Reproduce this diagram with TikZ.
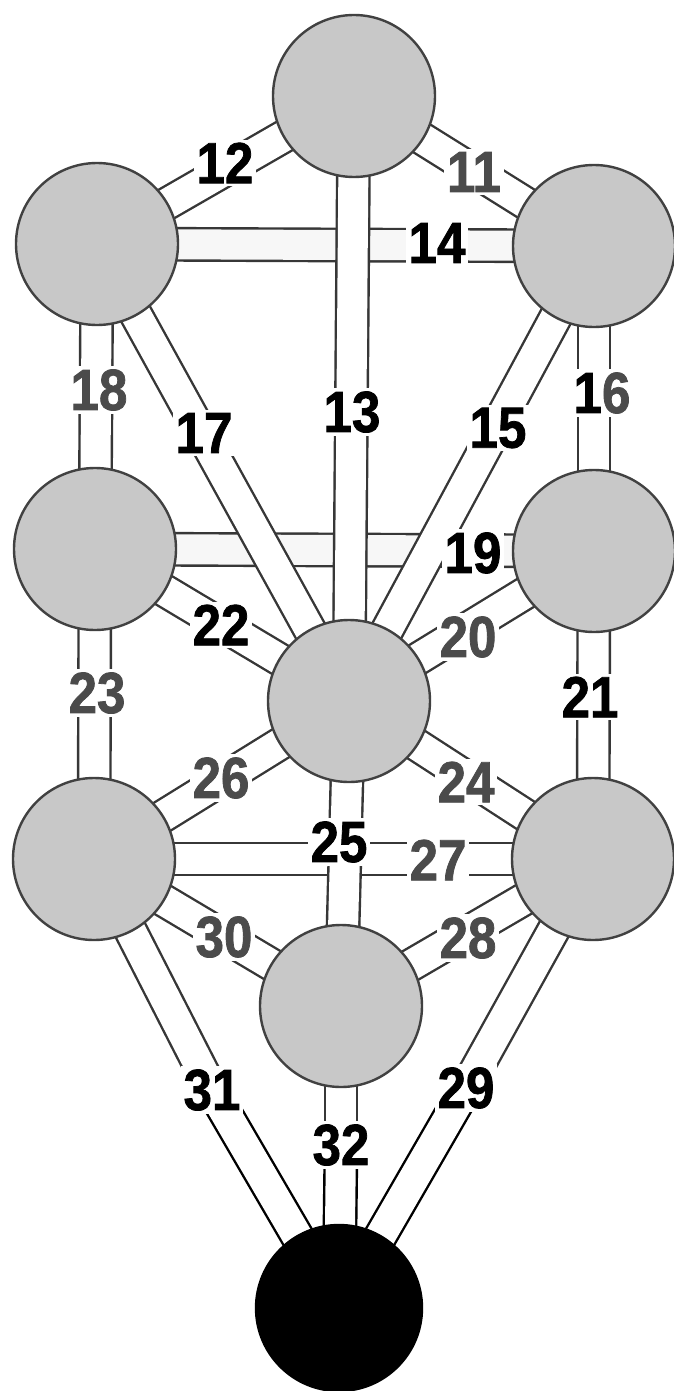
\documentclass[tikz,border=0pt]{standalone}
\usepackage{fontspec}
\newfontfamily\labfont{Liberation Sans Bold}[FakeStretch=0.88, FakeBold=1.3]
\definecolor{linecol}{RGB}{55,55,55}
\definecolor{circfill}{RGB}{200,200,200}
\definecolor{circline}{RGB}{65,65,65}
\definecolor{labgray}{RGB}{75,75,75}
\definecolor{chanfill}{RGB}{247,247,247}
\pgfdeclarelayer{background}
\pgfsetlayers{background,main}
\begin{document}
\begin{tikzpicture}[x=1pt,y=-1pt,
  chan/.style={draw=linecol, line width=2.4pt, double=white, double distance=30pt},
  hchan/.style={chan, double=chanfill},
  bchan/.style={chan, draw=black},
  seph/.style={circle, draw=circline, line width=2.4pt, fill=circfill, minimum size=162pt, inner sep=0pt},
  malk/.style={seph, fill=black, draw=black, minimum size=166pt},
  lab/.style={font=\labfont\fontsize{58}{58}\selectfont, fill=white, inner sep=3pt, text=black},
  glab/.style={lab, text=labgray}]
\useasboundingbox (0,0) rectangle (673,1391);
% sephiroth
\node[seph] (K)  at (354,96) {};
\node[seph] (B)  at (97,244) {};
\node[seph] (C)  at (594,246) {};
\node[seph] (G)  at (95,549) {};
\node[seph] (Ch) at (594,551) {};
\node[seph] (T)  at (349,701) {};
\node[seph] (H)  at (94,859) {};
\node[seph] (N)  at (593,859) {};
\node[seph] (Y)  at (341,1006) {};
\node[malk] (M)  at (339,1308) {};
% labels
\node[glab] (l11) at (474,172) {11};
\node[lab]  (l12) at (225,163) {12};
\node[lab]  (l14) at (437,243) {14};
\node[glab] (l18) at (99,390) {18};
\node[lab]  (l17) at (204,433) {17};
\node[lab]  (l13) at (352,412) {13};
\node[lab]  (l15) at (498,428) {15};
\node[lab]  (l16) at (602,393) {1\textcolor{labgray}{6}};
\node[lab]  (l19) at (473,553) {19};
\node[lab]  (l22) at (221,625) {22};
\node[glab] (l20) at (468,637) {20};
\node[glab] (l23) at (97,693) {23};
\node[lab]  (l21) at (590,697) {21};
\node[glab] (l26) at (221,778) {26};
\node[glab] (l24) at (466,782) {24};
\node[lab]  (l25) at (339,842) {25};
\node[glab] (l27) at (438,860) {27};
\node[glab] (l30) at (224,937) {30};
\node[glab] (l28) at (468,938) {28};
\node[lab]  (l31) at (212,1090) {31};
\node[lab]  (l32) at (341,1145) {32};
\node[lab]  (l29) at (466,1088) {29};
% channels
\begin{pgfonlayer}{background}
\draw[hchan] (B.center) -- (C.center);   % 14
\draw[hchan] (G.center) -- (Ch.center);  % 19
\draw[chan]  (H.center) -- (N.center);   % 27
\draw[chan]  (K.center) -- (C.center);   % 11
\draw[chan]  (K.center) -- (B.center);   % 12
\draw[chan]  (B.center) -- (G.center);   % 18
\draw[chan]  (C.center) -- (Ch.center);  % 16
\draw[chan]  (G.center) -- (H.center);   % 23
\draw[chan]  (Ch.center) -- (N.center);  % 21
\draw[chan]  (G.center) -- (T.center);   % 22
\draw[chan]  (Ch.center) -- (T.center);  % 20
\draw[chan]  (H.center) -- (T.center);   % 26
\draw[chan]  (N.center) -- (T.center);   % 24
\draw[chan]  (H.center) -- (Y.center);   % 30
\draw[chan]  (N.center) -- (Y.center);   % 28
\draw[chan]  (B.center) -- (T.center);   % 17
\draw[chan]  (C.center) -- (T.center);   % 15
\draw[chan]  (K.center) -- (T.center);   % 13
\draw[chan]  (T.center) -- (Y.center);   % 25
\draw[chan]  (H.center) -- (l31.center); % 31
\draw[bchan] (l31.center) -- (M.center);
\draw[chan]  (N.center) -- (l29.center); % 29
\draw[bchan] (l29.center) -- (M.center);
\draw[chan]  (Y.center) -- (l32.center); % 32
\draw[bchan] (l32.center) -- (M.center);
\end{pgfonlayer}
\end{tikzpicture}
\end{document}
